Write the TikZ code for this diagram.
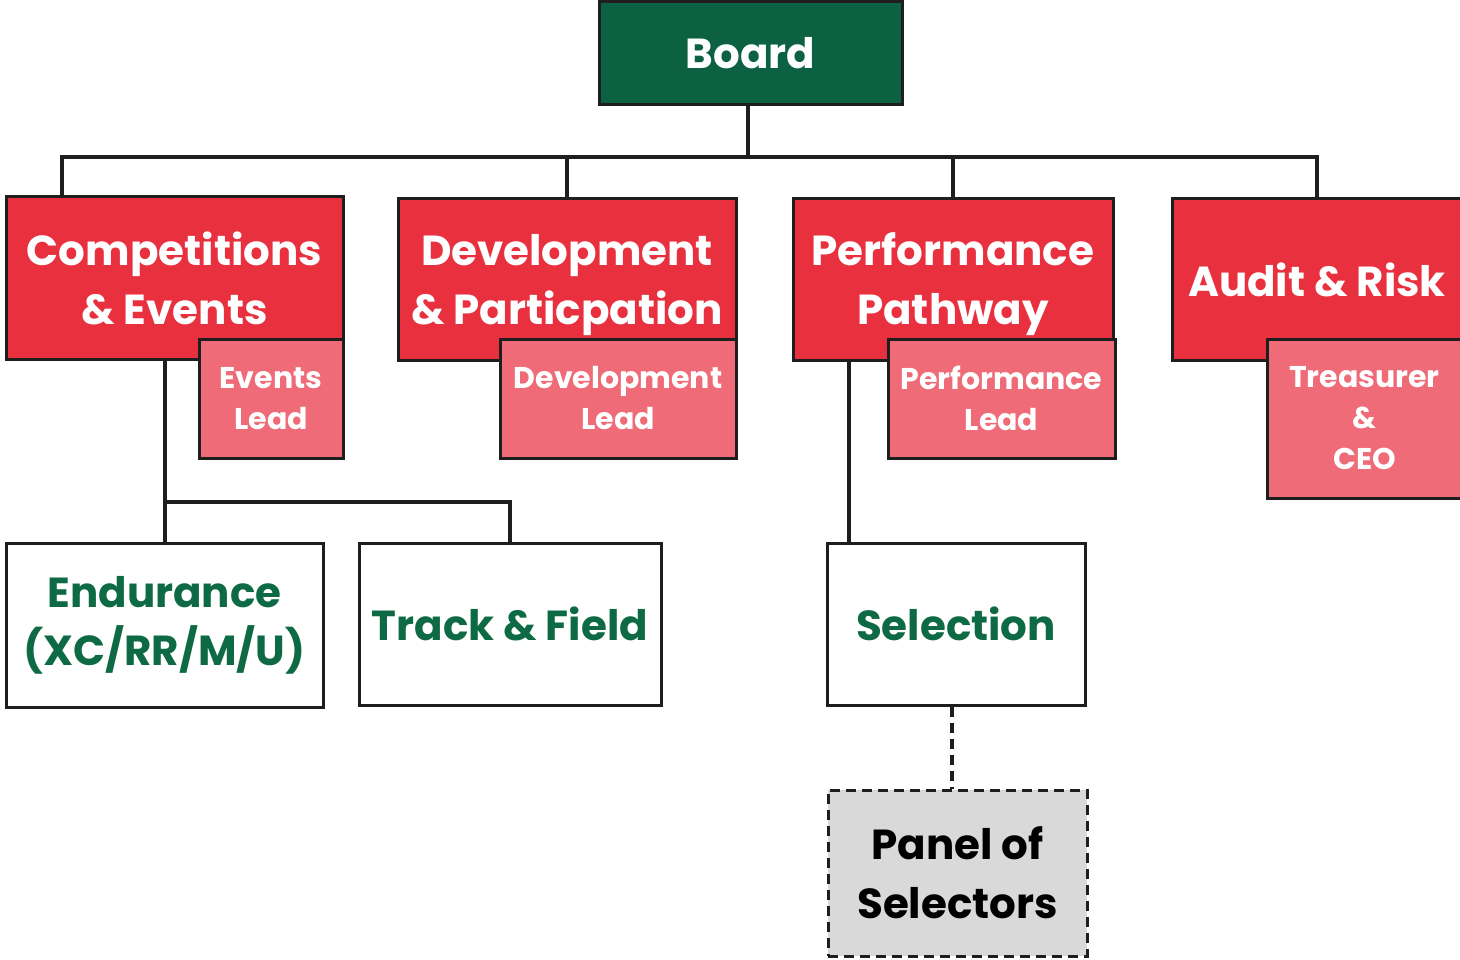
\documentclass[tikz,border=0pt]{standalone}
\usepackage{fontspec}
\setmainfont{Poppins}
\definecolor{boardgreen}{HTML}{0B6142}
\definecolor{mainred}{HTML}{E9303F}
\definecolor{leadred}{HTML}{EF6B78}
\definecolor{textgreen}{HTML}{0E6A45}
\definecolor{panelgrey}{HTML}{D9D9D9}
\definecolor{edge}{HTML}{1E1E1E}
\begin{document}
\begin{tikzpicture}[x=1pt,y=-1pt,
  box/.style={draw=edge, line width=3pt, inner sep=0pt, align=center},
  mainbox/.style={box, fill=mainred, text=white, font=\fontsize{42}{60}\selectfont\bfseries},
  leadbox/.style={box, fill=leadred, text=white, font=\fontsize{30}{41}\selectfont\bfseries},
  unitbox/.style={box, fill=white, text=textgreen, font=\fontsize{42}{58}\selectfont\bfseries},
  link/.style={draw=edge, line width=3.6pt},
  dashlink/.style={link, dash pattern=on 10pt off 6pt}]
\useasboundingbox (0,0) rectangle (1460,960);

\node[box, fill=boardgreen, text=white, font=\fontsize{42}{60}\selectfont\bfseries,
  minimum width=303, minimum height=103] (board) at (750.5,53.5) {Board};

\node[mainbox, minimum width=337, minimum height=162] (comp) at (174.5,278) {Competitions\\[-1pt]\& Events};
\node[leadbox, minimum width=144, minimum height=119] (complead) at (271,398.5) {Events\\Lead};

\node[mainbox, minimum width=338, minimum height=161] (dev) at (567,279.5) {\strut Development\\[-1pt]\& Particpation};
\node[leadbox, minimum width=236, minimum height=119] (devlead) at (618,398.5) {Development\\Lead};

\node[mainbox, minimum width=320, minimum height=161] (perf) at (953,279.5) {\strut Performance\\[-1pt]Pathway};
\node[leadbox, minimum width=227, minimum height=119] (perflead) at (1001.5,398.5) {Performance\\Lead};

\node[mainbox, minimum width=290, minimum height=161] (audit) at (1317,279.5) {Audit \& Risk};
\node[leadbox, minimum width=195, minimum height=159] (auditlead) at (1364.5,418.5) {Treasurer\\\&\\CEO};

\node[unitbox, minimum width=317, minimum height=164] (endu) at (164.5,625) {Endurance\\(XC/RR/M/U)};
\node[unitbox, minimum width=302, minimum height=162] (track) at (510,624) {Track \& Field};
\node[unitbox, minimum width=258, minimum height=162] (sel) at (956,624) {Selection};

\node[box, dash pattern=on 10pt off 6pt, fill=panelgrey, text=black,
  font=\fontsize{42}{59}\selectfont\bfseries,
  minimum width=259, minimum height=166] (panel) at (957.5,873) {Panel of\\Selectors};

\coordinate (hub) at (748,157);
\draw[link] (board.south -| hub) -- (hub);
\draw[link] (hub) -| ([xshift=-112.5pt]comp.north);
\draw[link] (hub) -| (dev.north);
\draw[link] (hub) -| (perf.north);
\draw[link] (hub) -| (audit.north);

\coordinate (hubb) at (165,502);
\draw[link] (comp.south -| hubb) -- (hubb) -- (endu.north -| hubb);
\draw[link] (hubb) -| (track.north);

\draw[link] ([xshift=-107pt]sel.north) -- ([xshift=-107pt]sel.north |- perf.south);
\draw[dashlink] ([xshift=-4pt]sel.south) -- ([xshift=-5.5pt]panel.north);
\end{tikzpicture}
\end{document}
